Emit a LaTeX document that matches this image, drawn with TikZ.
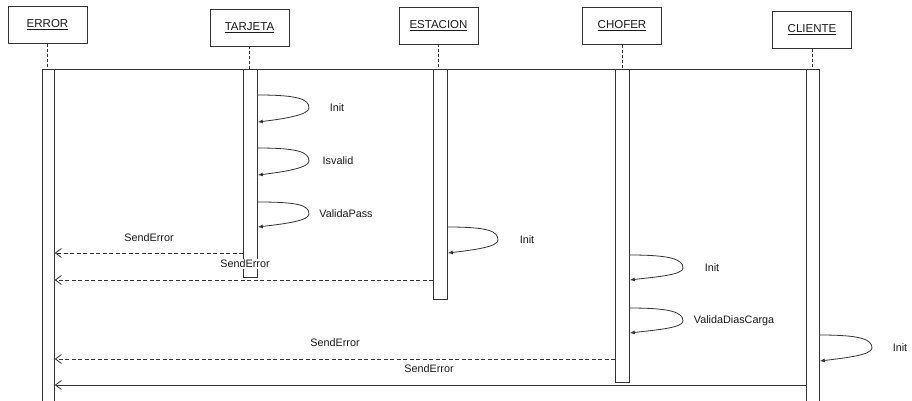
\documentclass[tikz,border=0pt]{standalone}
\usepackage{fontspec}
\setmainfont{Liberation Sans}
\usetikzlibrary{arrows.meta}
\begin{document}
\begin{tikzpicture}[x=1pt,y=-1pt,
  ink/.style={draw=black!80, line width=0.8pt},
  obj/.style={ink, minimum width=79pt, minimum height=37pt, inner sep=0pt,
    font=\fontsize{11.5}{13}\selectfont, text=black!90},
  life/.style={ink, dash pattern=on 3pt off 2pt},
  bar/.style={ink, fill=white, minimum width=13pt, inner sep=0pt, anchor=north west},
  self/.style={ink, -{Latex[length=5pt,width=4pt]}},
  ret/.style={ink, dash pattern=on 4pt off 2.5pt, -{Straight Barb[length=6pt,width=9pt]}},
  retsolid/.style={ink, -{Straight Barb[length=6pt,width=9pt]}},
  msg/.style={font=\fontsize{10.8}{12}\selectfont, text=black!90, inner sep=1pt, fill=white}
]
\useasboundingbox (0,0) rectangle (912,400);

% objects
\node[obj] (err) at (47.5,25) {\underline{ERROR}};
\node[obj] (tar) at (249.5,27.5) {\underline{TARJETA}};
\node[obj] (est) at (438.5,25.5) {\underline{ESTACION}};
\node[obj] (cho) at (622,26) {\underline{CHOFER}};
\node[obj] (cli) at (812,30) {\underline{CLIENTE}};

% lifelines
\coordinate (top) at (0,69);
\draw[life] (err.south) -- (err.south |- top);
\draw[life] (tar.south) -- (tar.south |- top);
\draw[life] (est.south) -- (est.south |- top);
\draw[life] (cho.south) -- (cho.south |- top);
\draw[life] (cli.south) -- (cli.south |- top);

% top line
\draw[ink] (42,69) -- (819,69);

% activation bars
\node[bar, minimum width=12pt, minimum height=335pt] (ebar) at (42,69) {};
\node[bar, minimum width=14pt, minimum height=208pt] (tbar) at (243,69) {};
\node[bar, minimum width=14pt, minimum height=230pt] (sbar) at (433,69) {};
\node[bar, minimum width=14pt, minimum height=313pt] (cbar) at (615,69) {};
\node[bar, minimum width=13pt, minimum height=335pt] (lbar) at (806,69) {};

% self messages
\draw[self] (tbar.east |- 0,95) .. controls +(40,0) and +(0,-9) .. (309,108) .. controls +(0,7) and +(25,-3) .. (tbar.east |- 0,122);
\node[msg] (l1) at (337,108) {Init};
\draw[self] (tbar.east |- 0,148) .. controls +(40,0) and +(0,-9) .. (309,161) .. controls +(0,7) and +(25,-3) .. (tbar.east |- 0,175);
\node[msg] (l2) at (338,161) {Isvalid};
\draw[self] (tbar.east |- 0,202) .. controls +(40,0) and +(0,-9) .. (309,214) .. controls +(0,7) and +(25,-3) .. (tbar.east |- 0,227);
\node[msg] (l3) at (346,214) {ValidaPass};

\draw[self] (sbar.east |- 0,227) .. controls +(40,0) and +(0,-9) .. (498,240) .. controls +(0,7) and +(25,-3) .. (sbar.east |- 0,253);
\node[msg] (l4) at (527,240) {Init};

\draw[self] (cbar.east |- 0,255) .. controls +(40,0) and +(0,-9) .. (683,268) .. controls +(0,7) and +(25,-3) .. (cbar.east |- 0,280);
\node[msg] (l5) at (712,268) {Init};
\draw[self] (cbar.east |- 0,308) .. controls +(40,0) and +(0,-9) .. (683,321) .. controls +(0,7) and +(25,-3) .. (cbar.east |- 0,333);
\node[msg] (l6) at (734,321) {ValidaDiasCarga};

\draw[self] (lbar.east |- 0,335) .. controls +(40,0) and +(0,-9) .. (872,348) .. controls +(0,7) and +(25,-3) .. (lbar.east |- 0,361);
\node[msg] (l7) at (900,348) {Init};

% error returns
\draw[ret] (tbar.west |- 0,253) -- (ebar.east |- 0,253);
\node[msg] (e1) at (149,238) {SendError};
\draw[ret] (sbar.west |- 0,280) -- (ebar.east |- 0,280);
\node[msg] (e2) at (245,264) {SendError};
\draw[ret] (cbar.west |- 0,359) -- (ebar.east |- 0,359);
\node[msg] (e3) at (335,343) {SendError};
\draw[retsolid] (lbar.west |- 0,385) -- (ebar.east |- 0,385);
\node[msg] (e4) at (429,369) {SendError};
\end{tikzpicture}
\end{document}
